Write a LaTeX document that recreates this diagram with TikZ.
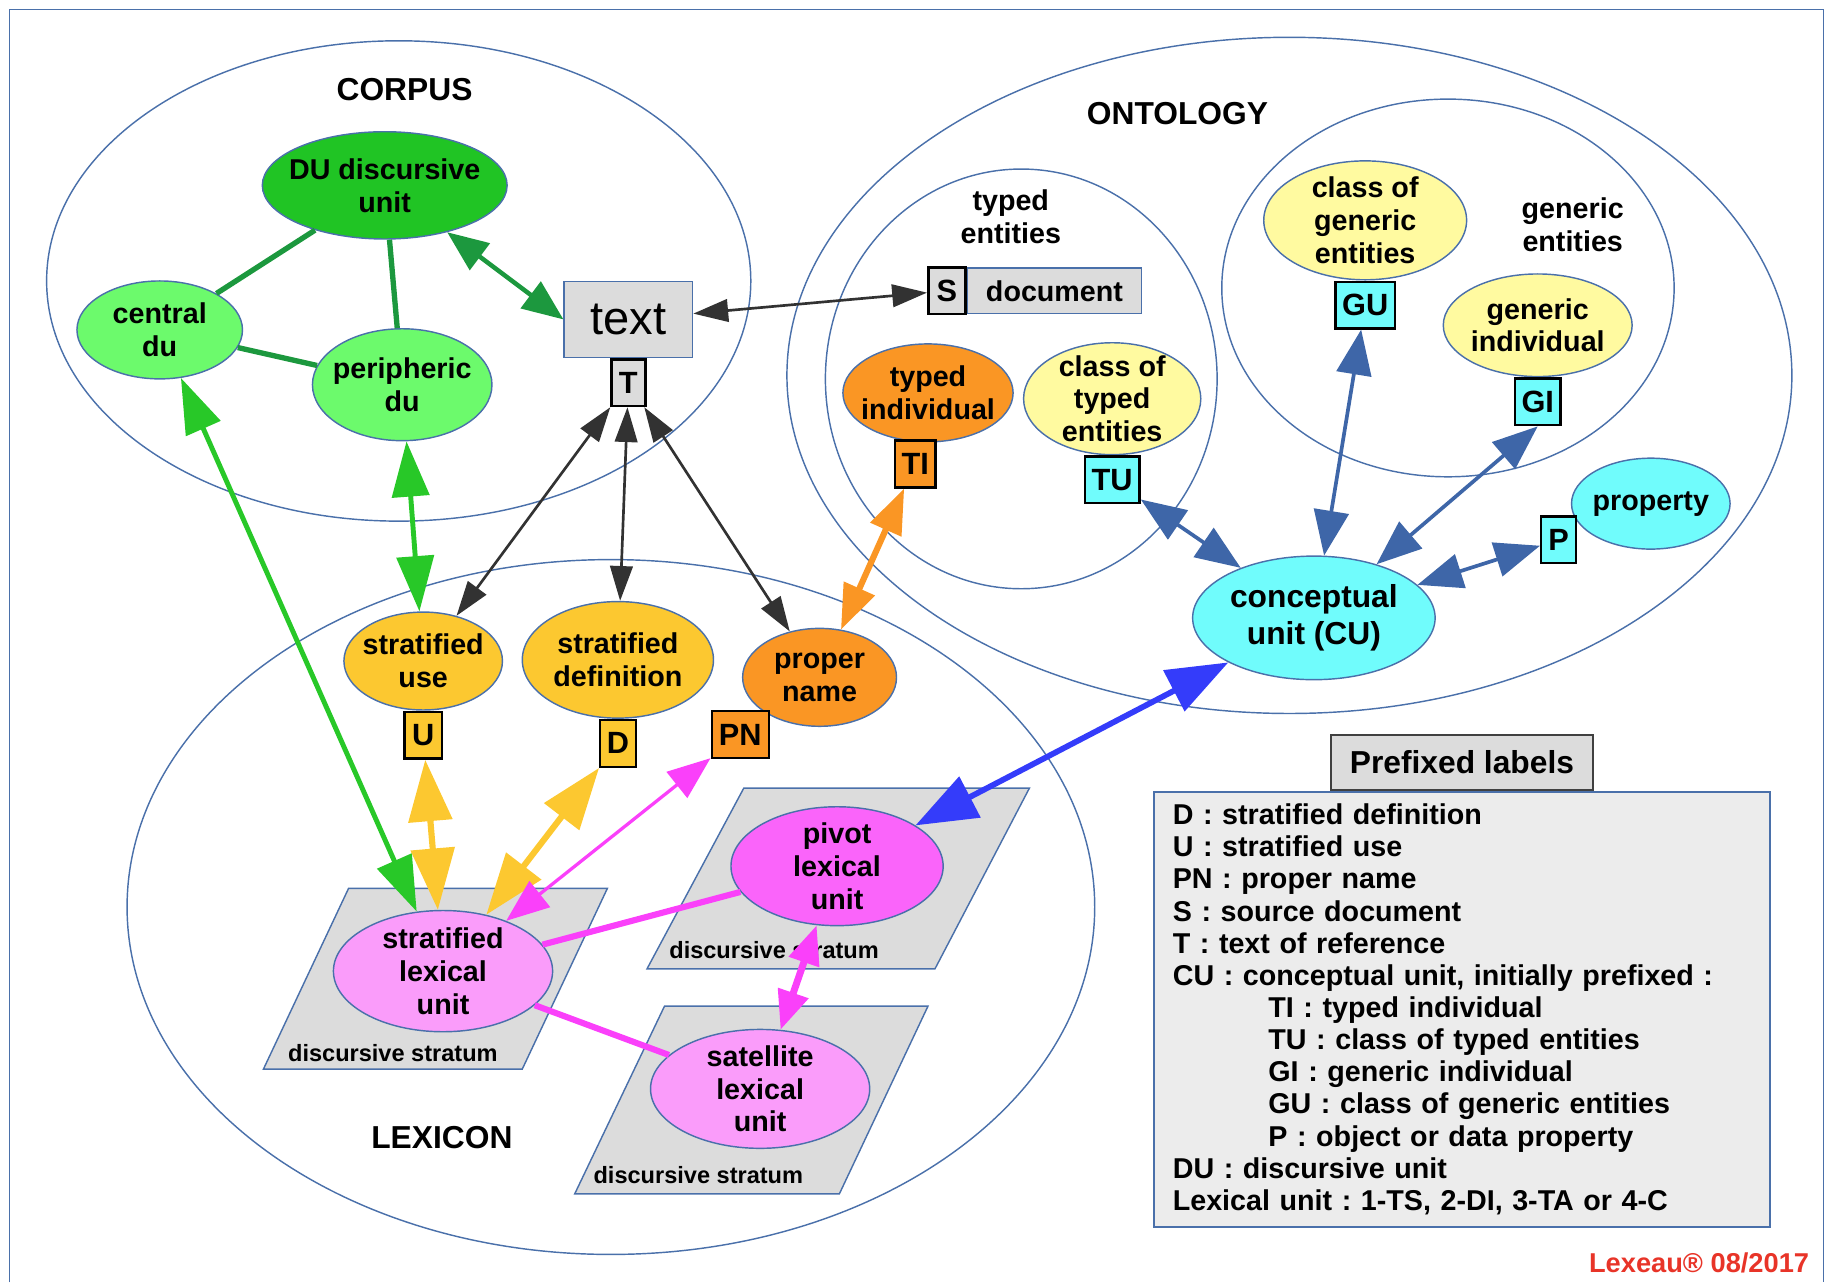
\documentclass[tikz,border=0pt]{standalone}
\usepackage{fontspec}
\setmainfont{Liberation Sans}
\usepackage{xcolor}
\usepackage{tikz}
\usetikzlibrary{arrows.meta}
\usetikzlibrary{shapes.geometric}
\usetikzlibrary{positioning}
\frenchspacing

\definecolor{zoneblue}{RGB}{74,112,170}
\definecolor{dugreen}{RGB}{32,196,36}
\definecolor{lightgreen}{RGB}{108,250,108}
\definecolor{dugreenline}{RGB}{28,152,62}
\definecolor{linkgreen}{RGB}{40,200,40}
\definecolor{goldfill}{RGB}{252,200,48}
\definecolor{orangefill}{RGB}{250,150,36}
\definecolor{paleyellow}{RGB}{255,250,160}
\definecolor{cyanfill}{RGB}{112,252,252}
\definecolor{magentafill}{RGB}{250,100,250}
\definecolor{palepink}{RGB}{250,156,250}
\definecolor{pinkline}{RGB}{250,64,250}
\definecolor{boxgray}{RGB}{220,220,220}
\definecolor{legendgray}{RGB}{236,236,236}
\definecolor{inkgray}{RGB}{50,50,50}
\definecolor{cublue}{RGB}{62,102,168}
\definecolor{brightblue}{RGB}{52,60,250}
\definecolor{lexred}{RGB}{232,52,40}

\tikzset{
  zone/.style={draw=zoneblue, line width=0.7pt},
  zonetitle/.style={font=\bfseries\fontsize{15.5}{18}\selectfont},
  zonelabel/.style={align=center, font=\bfseries\fontsize{14}{16}\selectfont},
  blob/.style={ellipse, draw=zoneblue, line width=0.7pt, inner sep=-2cm, align=center,
    font=\bfseries\fontsize{14}{16}\selectfont},
  tag/.style={draw=black, line width=1.2pt, inner sep=0pt, minimum height=8mm,
    font=\bfseries\fontsize{15}{17}\selectfont},
  stratum/.style={draw=zoneblue, fill=boxgray, line width=0.7pt},
  stratlabel/.style={font=\bfseries\fontsize{11.5}{13}\selectfont},
  tlink/.style={<->, >={Triangle[length=17pt,width=11pt]}, draw=inkgray, line width=1.3pt},
  dulink/.style={draw=dugreenline, line width=2.6pt},
  duarrow/.style={<->, >={Triangle[length=20pt,width=16pt]}, draw=dugreenline, line width=2.2pt},
  greenarrow/.style={<->, >={Triangle[length=27pt,width=18pt]}, draw=linkgreen, line width=2.4pt},
  goldarrow/.style={<->, >={Triangle[length=30pt,width=21pt]}, draw=goldfill, line width=3pt},
  pinkarrow/.style={<->, >={Triangle[length=21pt,width=16pt]}, draw=pinkline, line width=1.6pt},
  pinkedge/.style={draw=pinkline, line width=3pt},
  orangearrow/.style={<->, >={Triangle[length=22pt,width=16pt]}, draw=orangefill, line width=3pt},
  cuarrow/.style={<->, >={Triangle[length=22pt,width=17pt]}, draw=cublue, line width=1.8pt},
  bluearrow/.style={<->, >={Triangle[length=30pt,width=22pt]}, draw=brightblue, line width=2.8pt}
}

\begin{document}
\begin{tikzpicture}[x=0.2mm,y=-0.2mm]
  \useasboundingbox (0,0) rectangle (1568,1100);
  \draw[zoneblue, line width=0.8pt] (8,1100) -- (8,8) -- (1564,8) -- (1564,1100);

  \draw[zone] (342,241) ellipse [x radius=60.4mm, y radius=41.2mm];
  \draw[zone] (1106,322) ellipse [x radius=86.2mm, y radius=58mm];
  \draw[zone] (876,325) ellipse [x radius=33.6mm, y radius=36mm];
  \draw[zone] (1242,247) ellipse [x radius=38.8mm, y radius=32.4mm];
  \draw[zone] (524,778) ellipse [x radius=83mm, y radius=59.6mm];
  \node[zonetitle] (corpus) at (347,77) {CORPUS};
  \node[zonetitle] (ontology) at (1010,97) {ONTOLOGY};
  \node[zonetitle] (lexicon) at (379,976) {LEXICON};
  \node[zonelabel] (typedzone) at (867,186) {typed\\entities};
  \node[zonelabel] (genericzone) at (1349,193) {generic\\entities};

  \draw[stratum] (299,762) -- (521,762) -- (448,917) -- (226,917) -- cycle;
  \draw[stratum] (638,676) -- (883,676) -- (802,831) -- (555,831) -- cycle;
  \draw[stratum] (570,863) -- (796,863) -- (720,1024) -- (493,1024) -- cycle;
  \node[stratlabel] (stratum1) at (337,903) {discursive stratum};
  \node[stratlabel] (stratum2) at (664,815) {discursive stratum};
  \node[stratlabel] (stratum3) at (599,1008) {discursive stratum};

  \node[blob, fill=dugreen, minimum width=42mm, minimum height=18.4mm] (du) at (330,159) {DU discursive\\unit};
  \node[blob, fill=lightgreen, minimum width=28.4mm, minimum height=16.8mm] (central) at (137,283) {central\\du};
  \node[blob, fill=lightgreen, minimum width=30.8mm, minimum height=19.2mm] (peripheric) at (345,330) {peripheric\\du};
  \node[draw=zoneblue, fill=boxgray, line width=0.8pt, minimum width=22mm, minimum height=13mm,
    font=\fontsize{23}{26}\selectfont] (txt) at (539,274) {text};
  \node[tag, fill=boxgray, minimum width=5.8mm, below=0pt of txt] (T) {T};

  \node[draw=zoneblue, fill=boxgray, line width=0.8pt, minimum width=29.8mm, minimum height=7.8mm,
    font=\bfseries\fontsize{14}{16}\selectfont] (doc) at (904.5,249.5) {document};
  \node[tag, fill=boxgray, minimum width=6.4mm, left=0pt of doc] (S) {S};
  \node[blob, fill=orangefill, minimum width=29.2mm, minimum height=16.8mm] (typedind) at (796,337) {typed\\individual};
  \node[tag, fill=orangefill, minimum width=7mm] (TI) at (785,398) {TI};
  \node[blob, fill=paleyellow, minimum width=30.4mm, minimum height=19.2mm] (typedclass) at (954,342) {class of\\typed\\entities};
  \node[tag, fill=cyanfill, minimum width=9.4mm, below=0pt of typedclass] (TU) {TU};
  \node[blob, fill=paleyellow, minimum width=34.8mm, minimum height=20.4mm] (genclass) at (1171,189) {class of\\generic\\entities};
  \node[tag, fill=cyanfill, minimum width=10.2mm, below=0pt of genclass] (GU) {GU};
  \node[blob, fill=paleyellow, minimum width=32.4mm, minimum height=17.6mm] (genind) at (1319,279) {generic\\individual};
  \node[tag, fill=cyanfill, minimum width=7.8mm, below=0pt of genind] (GI) {GI};
  \node[blob, fill=cyanfill, minimum width=27.2mm, minimum height=15.6mm] (property) at (1416,432) {property};
  \node[tag, fill=cyanfill, minimum width=6mm] (P) at (1337,463) {P};
  \node[blob, fill=cyanfill, minimum width=41.6mm, minimum height=21.2mm,
    font=\bfseries\fontsize{15.5}{18}\selectfont] (cu) at (1127,530) {conceptual\\unit (CU)};

  \node[blob, fill=goldfill, minimum width=27.2mm, minimum height=16.8mm] (use) at (363,567) {stratified\\use};
  \node[tag, fill=goldfill, minimum width=6.4mm, below=0pt of use] (U) {U};
  \node[blob, fill=goldfill, minimum width=32.8mm, minimum height=20mm] (definition) at (530,566) {stratified\\definition};
  \node[tag, fill=goldfill, minimum width=6.2mm, below=0pt of definition] (D) {D};
  \node[blob, fill=orangefill, minimum width=26.4mm, minimum height=16.8mm] (propname) at (703,581) {proper\\name};
  \node[tag, fill=orangefill, minimum width=9.8mm] (PN) at (635,630) {PN};
  \node[blob, fill=palepink, minimum width=37.6mm, minimum height=20.8mm] (stratlex) at (380,833) {stratified\\lexical\\unit};
  \node[blob, fill=magentafill, minimum width=36.4mm, minimum height=20.4mm] (pivot) at (718,743) {pivot\\lexical\\unit};
  \node[blob, fill=palepink, minimum width=37.6mm, minimum height=20.4mm] (satellite) at (652,934) {satellite\\lexical\\unit};

  \draw[dulink] (du) -- (central);
  \draw[dulink] (du) -- (peripheric);
  \draw[dulink] (central) -- (peripheric);
  \draw[duarrow] (du) -- (txt.west);
  \draw[tlink] (txt) -- (S);
  \draw[tlink] (T) -- (use);
  \draw[tlink] (T) -- (definition);
  \draw[tlink] (T) -- (propname);
  \draw[greenarrow] (central) -- (stratlex);
  \draw[greenarrow] (peripheric) -- (use);
  \draw[goldarrow] (U) -- (stratlex);
  \draw[goldarrow] (D) -- (stratlex);
  \draw[pinkarrow] (PN) -- (stratlex);
  \draw[pinkedge] (stratlex) -- (pivot);
  \draw[pinkedge] (stratlex) -- (satellite);
  \draw[pinkarrow, line width=3.4pt, >={Triangle[length=19pt,width=15pt]}] (pivot) -- (satellite);
  \draw[orangearrow] (TI) -- (propname);
  \draw[bluearrow] (pivot) -- (cu);
  \draw[cuarrow] (TU) -- (cu);
  \draw[cuarrow] (GU) -- (cu);
  \draw[cuarrow] (GI.south) -- (cu);
  \draw[cuarrow] (P) -- (cu);

  \node[draw=black!75, fill=boxgray, line width=1.2pt, minimum width=45mm, minimum height=9.4mm,
    font=\bfseries\fontsize{15.5}{18}\selectfont] (prefix) at (1254,654) {Prefixed labels};
  \node[draw=zoneblue, fill=legendgray, line width=0.8pt, below=0pt of prefix, text width=99.2mm,
    inner xsep=3.2mm, minimum height=74.6mm, align=left,
    font=\bfseries\fontsize{14}{15.7}\selectfont] (legend) {D : stratified definition\\
    U : stratified use\\
    PN : proper name\\
    S : source document\\
    T : text of reference\\
    CU : conceptual unit, initially prefixed :\\
    \hspace*{16.4mm}TI : typed individual\\
    \hspace*{16.4mm}TU : class of typed entities\\
    \hspace*{16.4mm}GI : generic individual\\
    \hspace*{16.4mm}GU : class of generic entities\\
    \hspace*{16.4mm}P : object or data property\\
    DU : discursive unit\\
    Lexical unit : 1-TS, 2-DI, 3-TA or 4-C};
  \node[anchor=east, text=lexred, font=\bfseries\fontsize{13.3}{15}\selectfont] (credit) at (1558,1083) {Lexeau® 08/2017};
\end{tikzpicture}
\end{document}
